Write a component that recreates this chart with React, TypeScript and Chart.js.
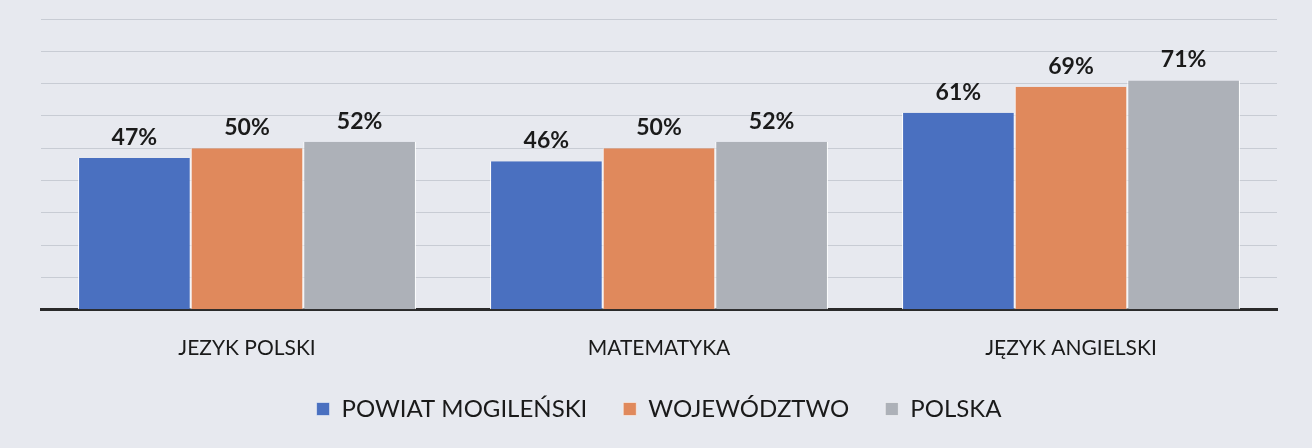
import React, { useEffect, useRef } from "react";
import { Chart, registerables } from "chart.js";

Chart.register(...registerables);

const categories = ["JEZYK POLSKI", "MATEMATYKA", "JĘZYK ANGIELSKI"];
const powiat = [47, 46, 61];
const wojewodztwo = [50, 50, 69];
const polska = [52, 52, 71];
const seriesNames = ["POWIAT MOGILEŃSKI", "WOJEWÓDZTWO", "POLSKA"];
const colors = ["#4a70c0", "#e0895c", "#adb1b8"];

const valueLabels = {
  id: "valueLabels",
  afterDatasetsDraw(chart: any) {
    const ctx = chart.ctx;
    ctx.save();
    ctx.font = "bold 23px Lato";
    ctx.fillStyle = "#1a1a1a";
    ctx.textAlign = "center";
    ctx.textBaseline = "bottom";
    chart.data.datasets.forEach((ds: any, i: number) => {
      const meta = chart.getDatasetMeta(i);
      meta.data.forEach((el: any, j: number) => {
        ctx.fillText(ds.data[j] + "%", el.x, el.y - 9);
      });
    });
    ctx.restore();
  },
};

export default function App() {
  const ref = useRef<HTMLCanvasElement>(null);
  useEffect(() => {
    document.body.style.margin = "0";
    document.body.style.background = "#e7e9ef";
    const chart = new Chart(ref.current!, {
      type: "bar",
      data: {
        labels: categories,
        datasets: [powiat, wojewodztwo, polska].map((d, i) => ({
          label: seriesNames[i],
          data: d,
          backgroundColor: colors[i],
          borderColor: "#ffffff",
          borderWidth: { left: 1, right: 1, top: 0, bottom: 0 },
          barPercentage: 1,
          categoryPercentage: 0.82,
        })),
      },
      options: {
        animation: false,
        responsive: false,
        layout: { padding: { left: 41, right: 35, top: 19, bottom: 17 } },
        scales: {
          x: {
            grid: { display: false },
            border: { display: true, color: "#2a2a2a", width: 3 },
            ticks: { color: "#1a1a1a", font: { family: "Lato", size: 21 }, padding: 18 },
            afterFit: (scale: any) => {
              scale.height -= 18;
            },
          },
          y: {
            min: 0,
            max: 90,
            ticks: { display: false, stepSize: 10 },
            grid: { color: "rgba(60,70,90,0.18)", drawTicks: false },
            border: { display: false },
          },
        },
        plugins: {
          legend: {
            position: "bottom",
            labels: {
              boxWidth: 13,
              boxHeight: 13,
              padding: 36,
              color: "#1a1a1a",
              font: { family: "Lato", size: 24 },
            },
          },
          tooltip: { enabled: false },
        },
      },
      plugins: [valueLabels],
    });
    return () => chart.destroy();
  }, []);
  return <canvas ref={ref} width={1312} height={448} style={{ display: "block" }} />;
}
